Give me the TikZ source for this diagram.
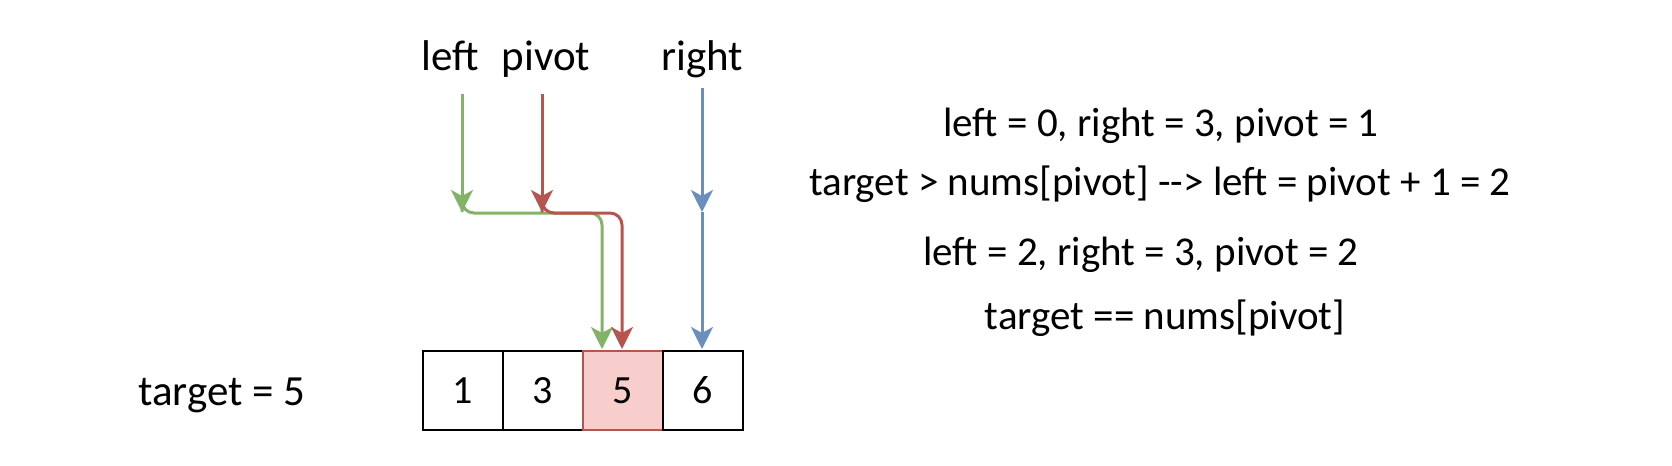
\documentclass[tikz,border=0pt]{standalone}
\usepackage{fontspec}
\setmainfont{Carlito}
\usetikzlibrary{arrows.meta}

\definecolor{gline}{HTML}{82B366}
\definecolor{rline}{HTML}{B85450}
\definecolor{bline}{HTML}{6C8EBF}
\definecolor{rfill}{HTML}{F8CECC}

\begin{document}
\begin{tikzpicture}[x=0.5pt, y=-0.5pt,
    cell/.style={draw, line width=1pt, minimum width=40pt, minimum height=39.5pt, inner sep=0pt, font=\fontsize{20}{24}\selectfont},
    big/.style={anchor=base, font=\fontsize{21.5}{26}\selectfont},
    note/.style={anchor=base, font=\fontsize{20.5}{24}\selectfont},
    ptr/.style={line width=1.5pt, rounded corners=6pt, -{Stealth[length=11pt, width=11pt, inset=3pt]}}]
    \useasboundingbox (0,0) rectangle (1672,466);

    % array
    \node (N1) at (463,390.5) [cell] {1};
    \node (N2) at (543,390.5) [cell] {3};
    \node (N3) at (623,390.5) [cell, draw=rline, fill=rfill] {5};
    \node (N4) at (703,390.5) [cell] {6};
    \node (T) at (222,405) [big] {target = 5};

    % pointers
    \node (L) at (450,70) [big] {left};
    \node (P) at (546,70) [big] {pivot};
    \node (R) at (702,70) [big] {right};

    \coordinate (Ltop) at (462,94);
    \coordinate (Lmid) at (462,212);
    \coordinate (Ptop) at (542,94);
    \coordinate (Pmid) at (542,212);
    \coordinate (Rtop) at (702,88);
    \coordinate (Rmid) at (702,212);
    \coordinate (Lend) at (602,349);
    \coordinate (Pend) at (622,349);
    \coordinate (Rend) at (702,349);

    \draw [ptr, gline] (Ltop) -- (Lmid);
    \draw [ptr, rline] (Ptop) -- (Pmid);
    \draw [ptr, bline] (Rtop) -- (Rmid);
    \draw [ptr, bline] (Rmid) -- (Rend);
    \draw [ptr, gline] (Lmid) -- (462,213) -- (602,213) -- (Lend);
    \draw [ptr, rline] (Pmid) -- (542,213) -- (622,213) -- (Pend);

    % steps
    \node (E1) at (1161,136) [note] {left = 0, right = 3, pivot = 1};
    \node (E2) at (1160,195) [note] {target > nums[pivot] -{}-> left = pivot + 1 = 2};
    \node (E3) at (1141,265) [note] {left = 2, right = 3, pivot = 2};
    \node (E4) at (1165,329) [note] {target =={} nums[pivot]};
\end{tikzpicture}
\end{document}
